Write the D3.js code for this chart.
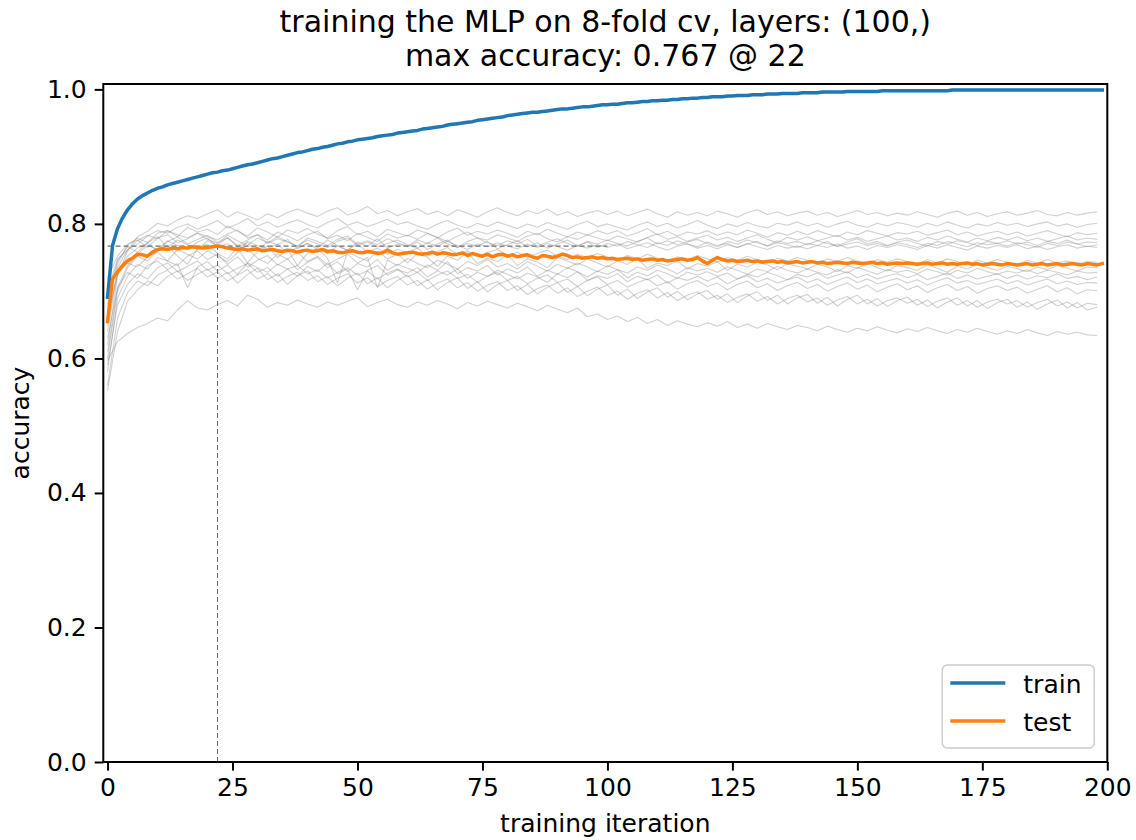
<!DOCTYPE html>
<html>
<head>
<meta charset="utf-8">
<script src="https://cdn.jsdelivr.net/npm/d3@7"></script>
<style>
  body { margin: 0; background: #fff; }
  svg { display: block; font-family: "DejaVu Sans", sans-serif; }
</style>
</head>
<body>
<svg id="chart" width="1136" height="840"></svg>
<script>
// ---- chart text ----
const titleLines = ["training the MLP on 8-fold cv, layers: (100,)", "max accuracy: 0.767 @ 22"];
const xLabel = "training iteration";
const yLabel = "accuracy";
const legendLabels = ["train", "test"];

// ---- ticks ----
const xTicks = [0, 25, 50, 75, 100, 125, 150, 175, 200];
const yTicks = [0.0, 0.2, 0.4, 0.6, 0.8, 1.0];

// ---- best test accuracy marker ----
const bestIter = 22;
const bestAcc = 0.767;
const bestLineEnd = 100;

// ---- mean training accuracy, one value per iteration 0..199 ----
const trainMean = [
  .691,.768,.793,.809,.821,.830,.837,.842,.846,.850,
  .853,.855,.858,.860,.862,.864,.866,.868,.870,.872,
  .874,.876,.877,.879,.880,.882,.884,.886,.888,.889,
  .891,.893,.895,.897,.898,.900,.902,.904,.906,.907,
  .909,.911,.912,.914,.915,.917,.919,.920,.922,.923,
  .925,.926,.927,.928,.930,.931,.932,.933,.935,.936,
  .937,.938,.939,.941,.942,.943,.944,.945,.947,.948,
  .949,.950,.951,.952,.954,.955,.956,.957,.958,.959,
  .961,.962,.963,.964,.965,.966,.966,.967,.968,.969,
  .970,.971,.971,.972,.973,.974,.974,.975,.976,.977,
  .977,.978,.978,.979,.980,.980,.981,.982,.982,.983,
  .983,.984,.984,.985,.985,.986,.986,.987,.987,.988,
  .988,.989,.989,.989,.990,.990,.991,.991,.991,.992,
  .992,.992,.993,.993,.993,.994,.994,.994,.994,.995,
  .995,.995,.995,.996,.996,.996,.996,.996,.997,.997,
  .997,.997,.997,.997,.997,.998,.998,.998,.998,.998,
  .998,.998,.998,.998,.998,.998,.998,.998,.998,.999,
  .999,.999,.999,.999,.999,.999,.999,.999,.999,.999,
  .999,.999,.999,.999,.999,.999,.999,.999,.999,.999,
  .999,.999,.999,.999,.999,.999,.999,.999,.999,.999
];

// ---- mean test accuracy, one value per iteration 0..199 ----
const testMean = [
  .655,.718,.729,.738,.745,.749,.755,.754,.752,.758,
  .762,.763,.762,.764,.763,.765,.764,.766,.765,.764,
  .765,.766,.767,.766,.764,.763,.762,.763,.761,.762,
  .763,.760,.761,.762,.760,.759,.761,.760,.758,.760,
  .761,.759,.760,.762,.759,.760,.758,.757,.759,.760,
  .758,.757,.759,.758,.756,.757,.761,.757,.755,.756,
  .757,.758,.756,.755,.756,.758,.755,.757,.756,.754,
  .755,.757,.753,.756,.754,.752,.755,.751,.754,.755,
  .752,.754,.751,.753,.754,.751,.749,.753,.752,.750,
  .752,.755,.753,.750,.751,.749,.750,.751,.749,.750,
  .748,.749,.747,.748,.749,.747,.748,.746,.747,.748,
  .746,.747,.745,.746,.747,.748,.746,.747,.750,.745,
  .741,.746,.750,.747,.745,.746,.744,.745,.746,.744,
  .745,.743,.744,.745,.743,.744,.742,.743,.744,.742,
  .743,.744,.742,.743,.741,.742,.743,.742,.741,.743,
  .742,.741,.742,.743,.741,.742,.740,.741,.742,.741,
  .742,.741,.740,.741,.742,.740,.741,.742,.740,.741,
  .740,.741,.742,.740,.741,.739,.740,.741,.740,.739,
  .741,.740,.739,.740,.741,.739,.740,.741,.739,.740,
  .741,.739,.740,.741,.740,.739,.741,.740,.739,.741
];

// ---- per-fold test accuracy, sampled every 2nd iteration (0,2,...,198) ----
const fold01 = [
  .620,.722,.760,.781,.789,.801,.797,.806,.812,.808,
  .815,.821,.810,.818,.812,.806,.815,.809,.817,.822,
  .816,.811,.819,.824,.813,.818,.826,.815,.820,.812,
  .818,.823,.814,.819,.812,.821,.816,.810,.818,.824,
  .817,.812,.820,.815,.822,.813,.818,.811,.816,.820,
  .814,.819,.812,.817,.822,.815,.810,.818,.813,.817,
  .812,.819,.815,.810,.817,.821,.814,.818,.812,.816,
  .819,.813,.817,.811,.815,.820,.814,.817,.812,.816,
  .813,.818,.814,.810,.816,.819,.813,.817,.811,.815,
  .818,.813,.816,.820,.814,.812,.817,.813,.816,.818
];
const fold02 = [
  .650,.735,.762,.770,.782,.790,.786,.795,.800,.792,
  .798,.805,.794,.800,.808,.797,.803,.795,.801,.806,
  .799,.794,.802,.808,.798,.803,.796,.801,.807,.799,
  .803,.797,.792,.800,.805,.798,.794,.801,.796,.803,
  .798,.793,.800,.795,.802,.797,.792,.799,.804,.796,
  .800,.795,.791,.798,.803,.796,.801,.794,.799,.805,
  .798,.793,.800,.796,.802,.797,.794,.801,.798,.803,
  .797,.801,.795,.800,.804,.798,.795,.801,.797,.802,
  .799,.795,.801,.797,.803,.798,.794,.800,.797,.802,
  .798,.801,.796,.800,.803,.797,.800,.795,.799,.801
];
const fold03 = [
  .680,.741,.768,.779,.772,.786,.790,.781,.795,.788,
  .792,.784,.797,.789,.782,.794,.788,.780,.791,.786,
  .793,.785,.779,.790,.796,.784,.789,.781,.792,.787,
  .782,.791,.786,.779,.788,.794,.783,.789,.785,.791,
  .786,.780,.789,.784,.792,.786,.781,.788,.783,.790,
  .785,.790,.782,.787,.793,.784,.789,.782,.788,.785,
  .790,.783,.788,.784,.791,.786,.780,.787,.783,.789,
  .784,.790,.785,.781,.788,.784,.790,.786,.782,.787,
  .785,.789,.783,.787,.791,.784,.788,.782,.786,.789,
  .784,.788,.782,.786,.790,.785,.781,.787,.784,.786
];
const fold04 = [
  .700,.748,.761,.775,.783,.778,.790,.784,.779,.787,
  .781,.776,.785,.791,.779,.784,.776,.788,.782,.775,
  .784,.789,.778,.783,.775,.786,.780,.774,.785,.779,
  .783,.777,.786,.780,.774,.782,.788,.779,.776,.784,
  .779,.774,.782,.786,.778,.773,.781,.777,.784,.779,
  .775,.782,.778,.773,.780,.785,.777,.781,.774,.779,
  .783,.776,.780,.774,.779,.784,.777,.772,.780,.776,
  .781,.775,.779,.783,.776,.780,.774,.778,.782,.776,
  .779,.774,.780,.776,.782,.777,.773,.779,.775,.780,
  .776,.781,.775,.779,.774,.778,.782,.776,.779,.777
];
const fold05 = [
  .610,.705,.738,.755,.768,.762,.774,.781,.770,.777,
  .783,.772,.779,.768,.776,.784,.771,.778,.773,.766,
  .779,.774,.768,.777,.782,.770,.775,.769,.778,.772,
  .767,.776,.771,.779,.770,.765,.774,.779,.772,.768,
  .775,.770,.777,.767,.773,.778,.771,.766,.774,.770,
  .776,.771,.767,.774,.779,.770,.775,.769,.773,.777,
  .771,.766,.774,.770,.776,.772,.767,.775,.771,.774,
  .769,.775,.771,.767,.773,.778,.770,.774,.768,.773,
  .776,.771,.767,.774,.770,.775,.772,.768,.774,.771,
  .775,.770,.773,.768,.774,.771,.776,.770,.773,.772
];
const fold06 = [
  .690,.745,.766,.758,.772,.781,.765,.776,.769,.762,
  .775,.768,.780,.766,.772,.759,.774,.769,.777,.763,
  .771,.765,.776,.768,.761,.773,.767,.778,.764,.770,
  .766,.773,.762,.770,.776,.765,.771,.767,.774,.763,
  .769,.775,.766,.772,.764,.770,.776,.768,.773,.765,
  .771,.767,.774,.769,.765,.772,.768,.775,.770,.766,
  .773,.768,.771,.765,.770,.774,.767,.772,.769,.765,
  .771,.768,.774,.766,.770,.773,.768,.771,.767,.772,
  .769,.765,.771,.768,.774,.770,.766,.772,.769,.771,
  .767,.772,.769,.765,.771,.768,.773,.770,.766,.769
];
const fold07 = [
  .720,.752,.770,.776,.765,.779,.784,.772,.778,.786,
  .777,.771,.783,.775,.768,.779,.772,.781,.774,.767,
  .776,.770,.765,.774,.779,.768,.773,.766,.771,.776,
  .769,.764,.772,.767,.774,.768,.762,.770,.766,.772,
  .767,.763,.770,.765,.771,.766,.761,.768,.764,.769,
  .765,.770,.763,.768,.772,.766,.761,.767,.770,.764,
  .768,.763,.769,.765,.771,.766,.762,.768,.764,.767,
  .763,.768,.765,.770,.764,.767,.762,.768,.765,.769,
  .766,.762,.768,.764,.769,.765,.761,.767,.764,.768,
  .765,.769,.763,.767,.762,.766,.769,.764,.767,.765
];
const fold08 = [
  .640,.728,.752,.764,.771,.760,.775,.768,.762,.773,
  .779,.766,.771,.760,.774,.768,.763,.770,.757,.765,
  .771,.762,.756,.767,.761,.770,.758,.764,.755,.762,
  .757,.764,.752,.759,.765,.754,.760,.751,.757,.762,
  .753,.758,.750,.756,.761,.752,.747,.755,.750,.756,
  .751,.746,.753,.748,.755,.749,.744,.751,.747,.753,
  .748,.743,.750,.746,.752,.747,.742,.749,.745,.750,
  .746,.741,.748,.744,.750,.745,.740,.747,.743,.748,
  .744,.740,.747,.742,.748,.744,.739,.746,.742,.747,
  .743,.739,.746,.741,.747,.742,.745,.740,.744,.743
];
const fold09 = [
  .600,.700,.735,.752,.745,.760,.768,.752,.740,.763,
  .770,.756,.748,.765,.742,.759,.767,.750,.762,.738,
  .757,.763,.749,.712,.758,.751,.745,.760,.748,.755,
  .742,.756,.750,.737,.752,.746,.758,.741,.749,.744,
  .754,.738,.748,.743,.735,.750,.745,.739,.748,.742,
  .736,.745,.740,.748,.734,.742,.738,.745,.733,.741,
  .737,.744,.731,.740,.736,.743,.739,.732,.741,.737,
  .733,.740,.736,.729,.738,.734,.741,.735,.730,.738,
  .735,.731,.739,.734,.728,.737,.733,.740,.735,.731,
  .737,.733,.729,.736,.732,.738,.734,.730,.736,.735
];
const fold10 = [
  .660,.725,.742,.736,.751,.758,.745,.762,.755,.748,
  .760,.752,.744,.757,.763,.749,.741,.755,.748,.758,
  .744,.752,.739,.748,.755,.742,.750,.705,.746,.738,
  .749,.741,.735,.746,.740,.733,.744,.738,.747,.736,
  .741,.733,.744,.737,.730,.740,.734,.742,.736,.729,
  .738,.732,.727,.736,.731,.739,.733,.726,.735,.730,
  .734,.728,.736,.731,.725,.733,.729,.737,.731,.727,
  .733,.728,.724,.732,.727,.735,.730,.725,.732,.728,
  .731,.726,.733,.729,.724,.731,.727,.734,.729,.725,
  .730,.727,.732,.726,.731,.728,.724,.730,.727,.728
];
const fold11 = [
  .580,.690,.722,.740,.733,.750,.745,.738,.752,.760,
  .747,.755,.740,.751,.736,.746,.753,.739,.748,.732,
  .743,.750,.735,.744,.729,.741,.736,.747,.731,.740,
  .734,.728,.739,.731,.744,.726,.735,.730,.738,.724,
  .733,.727,.736,.722,.731,.725,.735,.729,.721,.730,
  .725,.732,.720,.728,.723,.731,.726,.719,.728,.724,
  .729,.722,.727,.718,.725,.721,.728,.723,.717,.725,
  .721,.727,.719,.724,.729,.720,.725,.718,.723,.726,
  .720,.725,.717,.722,.727,.719,.724,.718,.722,.726,
  .719,.724,.718,.723,.720,.726,.719,.722,.717,.721
];
const fold12 = [
  .630,.705,.728,.719,.738,.745,.732,.741,.705,.736,
  .744,.730,.739,.725,.742,.735,.728,.740,.733,.722,
  .737,.729,.742,.726,.733,.702,.731,.738,.724,.732,
  .727,.735,.721,.730,.724,.733,.719,.728,.722,.731,
  .725,.718,.727,.721,.713,.726,.720,.729,.716,.723,
  .719,.726,.714,.722,.717,.724,.712,.720,.716,.722,
  .715,.721,.711,.718,.723,.714,.719,.712,.717,.721,
  .713,.718,.710,.716,.721,.713,.718,.711,.715,.719,
  .712,.717,.709,.715,.720,.712,.716,.710,.714,.718,
  .711,.716,.709,.714,.718,.711,.715,.710,.713,.712
];
const fold13 = [
  .590,.680,.710,.726,.718,.735,.742,.729,.737,.745,
  .731,.739,.726,.734,.741,.728,.735,.722,.733,.738,
  .726,.732,.719,.728,.735,.724,.730,.718,.727,.733,
  .721,.728,.716,.724,.730,.719,.725,.713,.722,.728,
  .716,.722,.711,.719,.724,.713,.718,.707,.716,.721,
  .710,.716,.706,.713,.718,.708,.714,.703,.711,.716,
  .707,.712,.702,.710,.715,.705,.711,.701,.708,.713,
  .704,.710,.700,.707,.712,.703,.709,.699,.706,.711,
  .702,.708,.698,.705,.710,.701,.707,.697,.704,.708,
  .701,.706,.697,.703,.708,.699,.705,.696,.702,.701
];
const fold14 = [
  .560,.660,.698,.715,.708,.724,.731,.718,.726,.734,
  .721,.729,.715,.724,.732,.718,.726,.713,.722,.728,
  .716,.723,.710,.719,.726,.712,.720,.707,.716,.722,
  .709,.716,.703,.712,.718,.705,.713,.700,.709,.714,
  .701,.708,.695,.704,.709,.697,.705,.692,.700,.706,
  .694,.700,.688,.697,.702,.690,.698,.686,.694,.699,
  .688,.694,.683,.691,.696,.685,.692,.681,.689,.694,
  .684,.690,.679,.687,.692,.681,.688,.678,.686,.690,
  .682,.688,.677,.685,.690,.679,.686,.676,.684,.688,
  .681,.686,.676,.683,.688,.678,.684,.675,.682,.680
];
const fold15 = [
  .552,.640,.685,.702,.715,.708,.722,.730,.716,.725,
  .733,.719,.728,.712,.725,.734,.717,.726,.710,.723,
  .730,.714,.722,.708,.719,.727,.711,.720,.705,.716,
  .724,.708,.717,.702,.713,.720,.704,.714,.699,.710,
  .716,.701,.710,.696,.706,.713,.698,.707,.693,.703,
  .709,.694,.703,.689,.699,.705,.691,.700,.687,.696,
  .701,.688,.696,.683,.693,.699,.686,.694,.681,.690,
  .695,.682,.691,.678,.688,.694,.681,.689,.677,.686,
  .691,.679,.687,.675,.684,.690,.678,.686,.674,.683,
  .688,.676,.684,.673,.681,.687,.675,.683,.672,.676
];
const fold16 = [
  .597,.625,.637,.646,.652,.660,.656,.672,.686,.675,
  .672,.680,.686,.678,.694,.688,.676,.683,.679,.687,
  .681,.676,.684,.679,.685,.690,.677,.683,.688,.680,
  .676,.684,.679,.686,.681,.674,.683,.678,.685,.680,
  .675,.682,.677,.671,.679,.673,.668,.675,.662,.666,
  .658,.663,.655,.661,.652,.658,.649,.656,.651,.647,
  .653,.648,.655,.646,.651,.645,.652,.647,.643,.649,
  .646,.641,.648,.643,.639,.645,.641,.647,.642,.638,
  .644,.640,.646,.641,.637,.643,.639,.645,.640,.636,
  .641,.637,.643,.638,.634,.640,.636,.639,.635,.634
];
const foldCurves = [fold01, fold02, fold03, fold04, fold05, fold06, fold07, fold08,
                    fold09, fold10, fold11, fold12, fold13, fold14, fold15, fold16];
const foldStep = 2;

// ---- layout ----
const W = 1136, H = 840;
const plot = { left: 103.3, right: 1107.3, top: 84, bottom: 762 };
const baseFont = 25, titleFont = 30;
const colors = { train: "#1f77b4", test: "#ff7f0e", fold: "#808080", guide: "#707070" };

const svg = d3.select("#chart");
svg.append("rect").attr("width", W).attr("height", H).attr("fill", "#fff");

const x = d3.scaleLinear().domain([-0.85, 200]).range([plot.left, plot.right]);
const y = d3.scaleLinear().domain([0, 1.008]).range([plot.bottom, plot.top]);

svg.append("clipPath").attr("id", "plotClip")
  .append("rect")
  .attr("x", plot.left).attr("y", plot.top)
  .attr("width", plot.right - plot.left).attr("height", plot.bottom - plot.top);

const g = svg.append("g").attr("clip-path", "url(#plotClip)");

// per-fold test curves
const foldLine = d3.line().x((d, i) => x(i * foldStep)).y(d => y(d));
g.selectAll("path.fold")
  .data(foldCurves)
  .join("path")
  .attr("class", "fold")
  .attr("d", foldLine)
  .attr("fill", "none")
  .attr("stroke", colors.fold)
  .attr("stroke-opacity", 0.36)
  .attr("stroke-width", 1.1)
  .attr("stroke-linejoin", "round");

// guide lines to the best test accuracy
g.append("line")
  .attr("x1", x(0)).attr("x2", x(bestLineEnd))
  .attr("y1", y(bestAcc)).attr("y2", y(bestAcc))
  .attr("stroke", colors.guide).attr("stroke-width", 1.1)
  .attr("stroke-dasharray", "5,3");
g.append("line")
  .attr("x1", x(bestIter)).attr("x2", x(bestIter))
  .attr("y1", y(0)).attr("y2", y(bestAcc))
  .attr("stroke", colors.guide).attr("stroke-width", 1.1)
  .attr("stroke-dasharray", "5,3");

// mean curves
const meanLine = d3.line().x((d, i) => x(i)).y(d => y(d));
g.append("path").datum(trainMean)
  .attr("d", meanLine).attr("fill", "none")
  .attr("stroke", colors.train).attr("stroke-width", 3.5)
  .attr("stroke-linejoin", "round").attr("stroke-linecap", "square");
g.append("path").datum(testMean)
  .attr("d", meanLine).attr("fill", "none")
  .attr("stroke", colors.test).attr("stroke-width", 3.5)
  .attr("stroke-linejoin", "round").attr("stroke-linecap", "square");

// axes
const xAxis = d3.axisBottom(x).tickValues(xTicks).tickFormat(d3.format("d"))
  .tickSizeInner(8.6).tickSizeOuter(0).tickPadding(8);
const yAxis = d3.axisLeft(y).tickValues(yTicks).tickFormat(d3.format(".1f"))
  .tickSizeInner(8.6).tickSizeOuter(0).tickPadding(8);

const gx = svg.append("g").attr("transform", `translate(0,${plot.bottom})`).call(xAxis);
const gy = svg.append("g").attr("transform", `translate(${plot.left},0)`).call(yAxis);
[gx, gy].forEach(a => {
  a.select(".domain").remove();
  a.selectAll(".tick line").attr("stroke", "#000").attr("stroke-width", 2);
  a.selectAll(".tick text").attr("fill", "#000")
    .style("font-family", "DejaVu Sans").style("font-size", baseFont + "px");
});

// frame
svg.append("rect")
  .attr("x", plot.left).attr("y", plot.top)
  .attr("width", plot.right - plot.left).attr("height", plot.bottom - plot.top)
  .attr("fill", "none").attr("stroke", "#000").attr("stroke-width", 2);

// axis labels
svg.append("text")
  .attr("x", (plot.left + plot.right) / 2).attr("y", 832)
  .attr("text-anchor", "middle").attr("font-size", baseFont).attr("fill", "#000")
  .text(xLabel);
svg.append("text")
  .attr("transform", `translate(29,${(plot.top + plot.bottom) / 2}) rotate(-90)`)
  .attr("text-anchor", "middle").attr("font-size", baseFont).attr("fill", "#000")
  .text(yLabel);

// title
svg.append("g").selectAll("text")
  .data(titleLines)
  .join("text")
  .attr("x", (plot.left + plot.right) / 2)
  .attr("y", (d, i) => 32 + i * 34)
  .attr("text-anchor", "middle").attr("font-size", titleFont).attr("fill", "#000")
  .text(d => d);

// legend (lower right)
const legend = { w: 152, h: 83, padRight: 13, padBottom: 14 };
const lg = svg.append("g")
  .attr("transform", `translate(${plot.right - legend.padRight - legend.w},${plot.bottom - legend.padBottom - legend.h})`);
lg.append("rect")
  .attr("width", legend.w).attr("height", legend.h).attr("rx", 5)
  .attr("fill", "#fff").attr("fill-opacity", 0.8)
  .attr("stroke", "#cccccc").attr("stroke-width", 1.5);
const legendColors = [colors.train, colors.test];
legendLabels.forEach((label, i) => {
  const cy = 18 + i * 38;
  lg.append("line")
    .attr("x1", 8).attr("x2", 63).attr("y1", cy).attr("y2", cy)
    .attr("stroke", legendColors[i]).attr("stroke-width", 3.5);
  lg.append("text")
    .attr("x", 81).attr("y", cy + 10)
    .attr("font-size", baseFont).attr("fill", "#000")
    .text(label);
});
</script>
</body>
</html>
